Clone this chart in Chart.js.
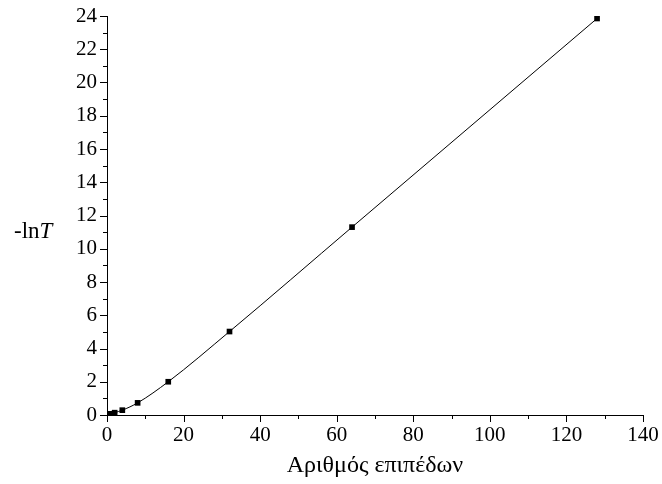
<!DOCTYPE html>
<html>
<head>
<meta charset="utf-8">
<script src="https://cdn.jsdelivr.net/npm/chart.js@4.4.0/dist/chart.umd.min.js"></script>
<style>
  html, body { margin: 0; padding: 0; background: #fff; }
  #wrap { width: 662px; height: 484px; position: relative; }
</style>
</head>
<body>
<div id="wrap"><canvas id="chart"></canvas></div>
<script>
// αριθμός επιπέδων και -lnT
const layers = [1, 2, 4, 8, 16, 32, 64, 128];
const minusLnT = [0.07, 0.14, 0.29, 0.73, 2.0, 5.02, 11.3, 23.85];
const xTitle = 'Αριθμός επιπέδων';
const yTitleMain = '-ln';
const yTitleItalic = 'T';

const FONT = '"Liberation Serif", "Times New Roman", serif';

// ticks έξω από τον άξονα: μεγάλα στις ετικέτες, μικρά ενδιάμεσα
const tickMarks = {
  id: 'tickMarks',
  afterDraw(chart) {
    const ctx = chart.ctx;
    const xs = chart.scales.x, ys = chart.scales.y;
    ctx.save();
    ctx.strokeStyle = '#000';
    ctx.lineWidth = 1;
    ctx.beginPath();
    xs.ticks.forEach(t => {
      const px = Math.round(xs.getPixelForValue(t.value)) + 0.5;
      const len = t.value % 20 === 0 ? 7 : 4;
      ctx.moveTo(px, xs.top);
      ctx.lineTo(px, xs.top + len);
    });
    ys.ticks.forEach(t => {
      const py = Math.round(ys.getPixelForValue(t.value)) + 0.5;
      const len = t.value % 2 === 0 ? 7 : 4;
      ctx.moveTo(ys.right, py);
      ctx.lineTo(ys.right - len, py);
    });
    ctx.stroke();

    // τίτλος άξονα y, οριζόντιος
    const cy = ys.getPixelForValue(11);
    ctx.fillStyle = '#000';
    ctx.textBaseline = 'middle';
    ctx.textAlign = 'left';
    ctx.font = '23px ' + FONT;
    ctx.fillText(yTitleMain, 14, cy);
    const w = ctx.measureText(yTitleMain).width;
    ctx.font = 'italic 23px ' + FONT;
    ctx.fillText(yTitleItalic, 14 + w, cy);
    ctx.restore();
  }
};

// χωρίς επιπλέον περιθώριο για τις ακραίες ετικέτες
function noOverhang(scale) {
  scale.paddingTop = 0;
  scale.paddingBottom = 0;
  scale.paddingLeft = 0;
  scale.paddingRight = 0;
}

new Chart(document.getElementById('chart'), {
  type: 'line',
  data: {
    datasets: [{
      data: layers.map((x, i) => ({ x, y: minusLnT[i] })),
      borderColor: '#000',
      backgroundColor: '#000',
      borderWidth: 1,
      pointStyle: 'rect',
      pointRadius: 4,
      pointBorderWidth: 0,
      cubicInterpolationMode: 'monotone',
      fill: false
    }]
  },
  options: {
    responsive: true,
    maintainAspectRatio: false,
    animation: false,
    layout: { padding: { top: 16, right: 19, left: 0, bottom: 0 } },
    plugins: { legend: { display: false }, tooltip: { enabled: false } },
    scales: {
      x: {
        type: 'linear',
        min: 0, max: 140,
        grid: { drawOnChartArea: false, drawTicks: false },
        border: { color: '#000', width: 1 },
        ticks: {
          stepSize: 10,
          autoSkip: false,
          maxRotation: 0,
          padding: 8,
          color: '#000',
          font: { family: FONT, size: 21 },
          callback: v => (v % 20 === 0 ? String(v) : '')
        },
        title: {
          display: true,
          text: xTitle,
          color: '#000',
          font: { family: FONT, size: 24 },
          padding: { top: 0 }
        },
        afterFit(scale) { scale.height = 69; noOverhang(scale); }
      },
      y: {
        type: 'linear',
        min: 0, max: 24,
        grid: { drawOnChartArea: false, drawTicks: false },
        border: { color: '#000', width: 1 },
        ticks: {
          stepSize: 1,
          autoSkip: false,
          padding: 10,
          color: '#000',
          font: { family: FONT, size: 21 },
          callback: v => (v % 2 === 0 ? String(v) : '')
        },
        afterFit(scale) { scale.width = 107; noOverhang(scale); }
      }
    }
  },
  plugins: [tickMarks]
});
</script>
</body>
</html>
